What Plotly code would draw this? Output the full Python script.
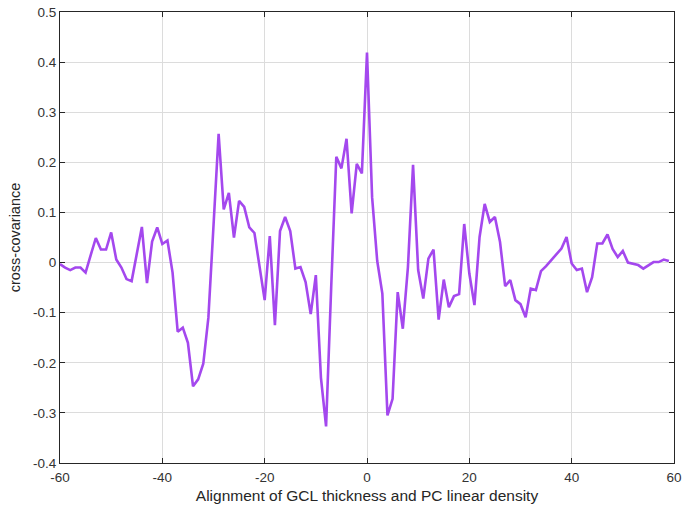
import plotly.graph_objects as go

# Lag values (integer alignment offsets)
lags = list(range(-60, 60))

# Cross-covariance at each lag
cross_cov = [
    -0.003, -0.010, -0.015, -0.010, -0.010, -0.020, 0.015, 0.049, 0.026, 0.026,
    0.060, 0.006, -0.010, -0.033, -0.037, 0.015, 0.071, -0.041, 0.042, 0.070,
    0.037, 0.044, -0.020, -0.138, -0.130, -0.160, -0.247, -0.233, -0.202, -0.110,
    0.078, 0.257, 0.106, 0.139, 0.050, 0.123, 0.111, 0.070, 0.059, -0.010,
    -0.075, 0.053, -0.125, 0.063, 0.091, 0.063, -0.012, -0.009, -0.039, -0.103,
    -0.025, -0.230, -0.327, -0.050, 0.211, 0.188, 0.247, 0.098, 0.197, 0.178,
    0.419, 0.130, 0.003, -0.062, -0.305, -0.272, -0.059, -0.132, -0.009, 0.195,
    -0.015, -0.072, 0.008, 0.026, -0.114, -0.034, -0.089, -0.067, -0.063, 0.077,
    -0.022, -0.085, 0.051, 0.117, 0.081, 0.091, 0.041, -0.047, -0.035, -0.075,
    -0.083, -0.109, -0.052, -0.055, -0.017, -0.007, 0.005, 0.018, 0.028, 0.051,
    -0.002, -0.015, -0.012, -0.059, -0.029, 0.038, 0.038, 0.056, 0.027, 0.011,
    0.023, 0.000, -0.002, -0.005, -0.012, -0.005, 0.001, 0.001, 0.006, 0.003,
]

x_ticks = [-60, -40, -20, 0, 20, 40, 60]
x_tick_text = ["-60", "-40", "-20", "0", "20", "40", "60"]
y_ticks = [-0.4, -0.3, -0.2, -0.1, 0, 0.1, 0.2, 0.3, 0.4, 0.5]
y_tick_text = ["-0.4", "-0.3", "-0.2", "-0.1", "0", "0.1", "0.2", "0.3", "0.4", "0.5"]

FONT = "Liberation Sans, Arial, sans-serif"

fig = go.Figure()
fig.add_trace(go.Scatter(
    x=lags, y=cross_cov, mode="lines",
    line=dict(color="#A448EE", width=2.6),
    hoverinfo="skip",
))

axis_common = dict(
    showline=True, linecolor="#262626", linewidth=1, mirror="ticks",
    ticks="inside", ticklen=5, tickcolor="#262626", tickwidth=1,
    showgrid=True, gridcolor="#DCDCDC", gridwidth=1,
    zeroline=False,
    tickfont=dict(family=FONT, size=13.5, color="#333333"),
)

fig.update_xaxes(
    range=[-60, 60], tickvals=x_ticks, ticktext=x_tick_text,
    ticklabelstandoff=2,
    title=dict(text="Alignment of GCL thickness and PC linear density",
               font=dict(family=FONT, size=15.5, color="#262626"),
               standoff=5),
    **axis_common,
)
fig.update_yaxes(
    range=[-0.4, 0.5], tickvals=y_ticks, ticktext=y_tick_text,
    ticklabelstandoff=0,
    title=dict(text="cross-covariance",
               font=dict(family=FONT, size=14.5, color="#262626"),
               standoff=8),
    **axis_common,
)

fig.update_layout(
    width=686, height=512,
    margin=dict(l=60, r=12, t=12, b=49, autoexpand=False),
    paper_bgcolor="white", plot_bgcolor="white",
    showlegend=False,
)

fig.write_html("out.html")
